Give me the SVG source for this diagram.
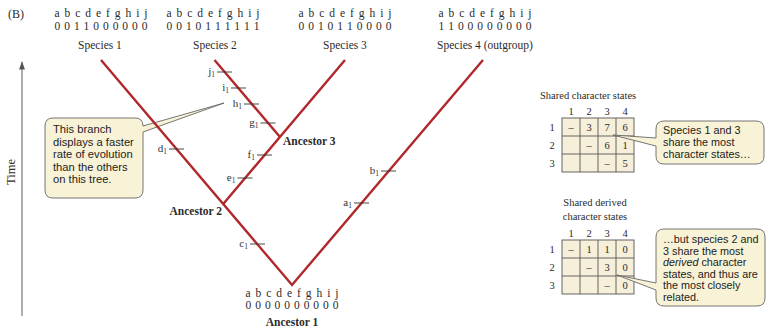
<svg xmlns="http://www.w3.org/2000/svg" width="773" height="331" viewBox="0 0 773 331">
<style>
.serif{font-family:"Liberation Serif","Times New Roman",serif;fill:#2b2b2b}
.row{font-size:11.5px}
.sp{font-size:11.5px}
.bold{font-weight:bold;font-size:11.5px}
.lbl{font-family:"Liberation Serif",serif;font-size:11px;fill:#333;text-anchor:end}
.sub{font-size:7.5px}
.branch{stroke:#b0282b;stroke-width:2.4;fill:none;stroke-linecap:butt}
.tick{stroke:#333;stroke-width:0.9}
.call{fill:#f8f3d6;stroke:#666;stroke-width:0.9}
.ctext{font-family:"Liberation Sans",Arial,sans-serif;font-size:10.8px;fill:#222}
.c1{font-size:11.2px}
.cell{fill:#f6efda;stroke:#555;stroke-width:0.9}
.tt{font-family:"Liberation Serif",serif;font-size:10.5px;fill:#2b2b2b}
.cv{font-family:"Liberation Serif",serif;font-size:10.5px;fill:#2b2b2b;text-anchor:middle}
</style>
<defs>
<marker id="arr" viewBox="0 0 10 10" refX="9" refY="5" markerWidth="7" markerHeight="7" orient="auto">
<path d="M0,1.5 L10,5 L0,8.5 Z" fill="#555"/>
</marker>
</defs>
<rect width="773" height="331" fill="#ffffff"/>

<text class="serif" x="8" y="18" font-size="12">(B)</text>

<g id="time-axis">
<line x1="22" y1="316" x2="22" y2="62" stroke="#777" stroke-width="1.2" marker-end="url(#arr)"/>
<text class="serif" font-size="12.5" transform="translate(14.5,172) rotate(-90)" text-anchor="middle">Time</text>
</g>

<g id="callout-branch">
<path class="call" d="M53,118 H135 Q143,118 143,126 L224,103 L143,132 V190 Q143,198 135,198 H53 Q45,198 45,190 V126 Q45,118 53,118 Z"/>
<text class="ctext c1" x="53" y="133">This branch</text>
<text class="ctext c1" x="53" y="145.5">displays a faster</text>
<text class="ctext c1" x="53" y="158">rate of evolution</text>
<text class="ctext c1" x="53" y="170.5">than the others</text>
<text class="ctext c1" x="53" y="183">on this tree.</text>
</g>

<g id="connectors">
<polyline class="branch" points="101,60 292,285 483,60"/>
<polyline class="branch" points="223.2,204 345,60"/>
<polyline class="branch" points="280,137 214.5,60"/>
</g>

<g id="species1">
<text class="serif row" x="101" y="17" text-anchor="middle" textLength="93" lengthAdjust="spacing">a b c d e f g h i j</text>
<text class="serif row" x="101" y="30" text-anchor="middle" textLength="93" lengthAdjust="spacing">0 0 1 1 0 0 0 0 0 0</text>
<text class="serif sp" x="100" y="49" text-anchor="middle">Species 1</text>
</g>
<g id="species2">
<text class="serif row" x="213" y="17" text-anchor="middle" textLength="93" lengthAdjust="spacing">a b c d e f g h i j</text>
<text class="serif row" x="213" y="30" text-anchor="middle" textLength="93" lengthAdjust="spacing">0 0 1 0 1 1 1 1 1 1</text>
<text class="serif sp" x="215" y="49" text-anchor="middle">Species 2</text>
</g>
<g id="species3">
<text class="serif row" x="345" y="17" text-anchor="middle" textLength="93" lengthAdjust="spacing">a b c d e f g h i j</text>
<text class="serif row" x="345" y="30" text-anchor="middle" textLength="93" lengthAdjust="spacing">0 0 1 0 1 1 0 0 0 0</text>
<text class="serif sp" x="345" y="49" text-anchor="middle">Species 3</text>
</g>
<g id="species4">
<text class="serif row" x="485" y="17" text-anchor="middle" textLength="93" lengthAdjust="spacing">a b c d e f g h i j</text>
<text class="serif row" x="485" y="30" text-anchor="middle" textLength="93" lengthAdjust="spacing">1 1 0 0 0 0 0 0 0 0</text>
<text class="serif sp" x="485" y="49" text-anchor="middle">Species 4 (outgroup)</text>
</g>
<g id="ancestor1">
<text class="serif row" x="292" y="297" text-anchor="middle" textLength="93" lengthAdjust="spacing">a b c d e f g h i j</text>
<text class="serif row" x="292" y="309" text-anchor="middle" textLength="93" lengthAdjust="spacing">0 0 0 0 0 0 0 0 0 0</text>
<text class="serif bold" x="292" y="326" text-anchor="middle">Ancestor 1</text>
</g>
<g id="ancestor2">
<text class="serif bold" x="222" y="215" text-anchor="end">Ancestor 2</text>
</g>
<g id="ancestor3">
<text class="serif bold" x="283" y="145">Ancestor 3</text>
</g>

<g id="changes">
<line class="tick" x1="217" y1="72" x2="232" y2="72"/><text class="lbl" x="215" y="75">j<tspan class="sub" dy="2">1</tspan></text>
<line class="tick" x1="231" y1="88" x2="246" y2="88"/><text class="lbl" x="229" y="91">i<tspan class="sub" dy="2">1</tspan></text>
<line class="tick" x1="244" y1="104" x2="259" y2="104"/><text class="lbl" x="242" y="107">h<tspan class="sub" dy="2">1</tspan></text>
<line class="tick" x1="260.5" y1="123" x2="275.5" y2="123"/><text class="lbl" x="258.5" y="126">g<tspan class="sub" dy="2">1</tspan></text>
<line class="tick" x1="257" y1="155" x2="272" y2="155"/><text class="lbl" x="255" y="158">f<tspan class="sub" dy="2">1</tspan></text>
<line class="tick" x1="237.5" y1="178" x2="252.5" y2="178"/><text class="lbl" x="235.5" y="181">e<tspan class="sub" dy="2">1</tspan></text>
<line class="tick" x1="250" y1="244" x2="265" y2="244"/><text class="lbl" x="248" y="247">c<tspan class="sub" dy="2">1</tspan></text>
<line class="tick" x1="169" y1="149" x2="184" y2="149"/><text class="lbl" x="167" y="152">d<tspan class="sub" dy="2">1</tspan></text>
<line class="tick" x1="354" y1="203" x2="369" y2="203"/><text class="lbl" x="352" y="206">a<tspan class="sub" dy="2">1</tspan></text>
<line class="tick" x1="381" y1="171" x2="396" y2="171"/><text class="lbl" x="379" y="174">b<tspan class="sub" dy="2">1</tspan></text>
</g>

<g id="table-shared">
<text class="tt" x="540" y="99">Shared character states</text>
<text class="cv" x="571" y="115">1</text><text class="cv" x="589" y="115">2</text><text class="cv" x="607" y="115">3</text><text class="cv" x="625" y="115">4</text>
<text class="cv" x="552" y="131">1</text><text class="cv" x="552" y="149">2</text><text class="cv" x="552" y="167">3</text>
<rect class="cell" x="562" y="118" width="72" height="54"/>
<path d="M580,118V172M598,118V172M616,118V172M562,136H634M562,154H634" stroke="#555" stroke-width="0.9" fill="none"/>
<text class="cv" x="571" y="131">–</text><text class="cv" x="589" y="131">3</text><text class="cv" x="607" y="131">7</text><text class="cv" x="625" y="131">6</text>
<text class="cv" x="589" y="149">–</text><text class="cv" x="607" y="149">6</text><text class="cv" x="625" y="149">1</text>
<text class="cv" x="607" y="167">–</text><text class="cv" x="625" y="167">5</text>
</g>

<g id="callout-shared">
<path class="call" d="M664,121 H756 Q764,121 764,129 V156 Q764,164 756,164 H664 Q656,164 656,156 V146 L613,135 L656,138 V129 Q656,121 664,121 Z"/>
<text class="ctext" x="663" y="134">Species 1 and 3</text>
<text class="ctext" x="663" y="146">share the most</text>
<text class="ctext" x="663" y="158">character states…</text>
</g>

<g id="table-derived">
<text class="tt" x="595" y="206" text-anchor="middle">Shared derived</text>
<text class="tt" x="595" y="220" text-anchor="middle">character states</text>
<text class="cv" x="571" y="237">1</text><text class="cv" x="589" y="237">2</text><text class="cv" x="607" y="237">3</text><text class="cv" x="625" y="237">4</text>
<text class="cv" x="552" y="253">1</text><text class="cv" x="552" y="271">2</text><text class="cv" x="552" y="289">3</text>
<rect class="cell" x="562" y="240" width="72" height="54"/>
<path d="M580,240V294M598,240V294M616,240V294M562,258H634M562,276H634" stroke="#555" stroke-width="0.9" fill="none"/>
<text class="cv" x="571" y="253">–</text><text class="cv" x="589" y="253">1</text><text class="cv" x="607" y="253">1</text><text class="cv" x="625" y="253">0</text>
<text class="cv" x="589" y="271">–</text><text class="cv" x="607" y="271">3</text><text class="cv" x="625" y="271">0</text>
<text class="cv" x="607" y="289">–</text><text class="cv" x="625" y="289">0</text>
</g>

<g id="callout-derived">
<path class="call" d="M664,229 H757 Q765,229 765,237 V298 Q765,306 757,306 H664 Q656,306 656,298 V290 L617,275 L656,283 V237 Q656,229 664,229 Z"/>
<text class="ctext" x="663" y="243">…but species 2 and</text>
<text class="ctext" x="663" y="254.5">3 share the most</text>
<text class="ctext" x="663" y="266"><tspan font-style="italic">derived</tspan> character</text>
<text class="ctext" x="663" y="277.5">states, and thus are</text>
<text class="ctext" x="663" y="289">the most closely</text>
<text class="ctext" x="663" y="300.5">related.</text>
</g>
</svg>
